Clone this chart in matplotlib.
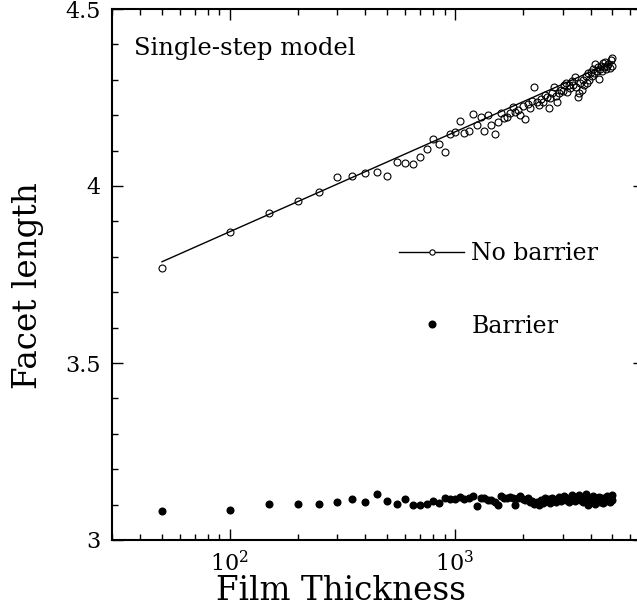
import matplotlib
matplotlib.use("Agg")
import matplotlib.pyplot as plt
from matplotlib.lines import Line2D
from matplotlib.ticker import LogLocator, MultipleLocator, FormatStrFormatter, NullFormatter

plt.rcParams['font.family'] = ['DejaVu Serif']
plt.rcParams['mathtext.fontset'] = 'dejavuserif'

thickness = [
    50, 100, 150, 200, 250, 300, 350, 400, 450, 500,
    550, 600, 650, 700, 750, 800, 850, 900, 950, 1000,
    1050, 1100, 1150, 1200, 1250, 1300, 1350, 1400, 1450, 1500,
    1550, 1600, 1650, 1700, 1750, 1800, 1850, 1900, 1950, 2000,
    2050, 2100, 2150, 2200, 2250, 2300, 2350, 2400, 2450, 2500,
    2550, 2600, 2650, 2700, 2750, 2800, 2850, 2900, 2950, 3000,
    3050, 3100, 3150, 3200, 3250, 3300, 3350, 3400, 3450, 3500,
    3550, 3600, 3650, 3700, 3750, 3800, 3850, 3900, 3950, 4000,
    4050, 4100, 4150, 4200, 4250, 4300, 4350, 4400, 4450, 4500,
    4550, 4600, 4650, 4700, 4750, 4800, 4850, 4900, 4950, 5000,
]

no_barrier = [
    3.768, 3.870, 3.925, 3.958, 3.984, 4.026, 4.028, 4.036, 4.039, 4.029,
    4.069, 4.066, 4.061, 4.081, 4.104, 4.133, 4.119, 4.095, 4.147, 4.152,
    4.184, 4.151, 4.155, 4.203, 4.172, 4.196, 4.156, 4.201, 4.172, 4.147,
    4.180, 4.205, 4.192, 4.194, 4.205, 4.222, 4.208, 4.215, 4.201, 4.226,
    4.188, 4.232, 4.219, 4.240, 4.279, 4.236, 4.228, 4.245, 4.238, 4.256,
    4.252, 4.219, 4.248, 4.262, 4.279, 4.255, 4.238, 4.262, 4.270, 4.268,
    4.284, 4.292, 4.265, 4.286, 4.278, 4.296, 4.284, 4.307, 4.280, 4.251,
    4.262, 4.290, 4.270, 4.300, 4.285, 4.310, 4.290, 4.318, 4.300, 4.323,
    4.312, 4.330, 4.318, 4.345, 4.325, 4.335, 4.301, 4.330, 4.340, 4.325,
    4.348, 4.335, 4.351, 4.330, 4.340, 4.345, 4.332, 4.355, 4.361, 4.338,
]

barrier = [
    3.082, 3.085, 3.101, 3.103, 3.101, 3.108, 3.115, 3.106, 3.129, 3.110,
    3.102, 3.116, 3.099, 3.099, 3.102, 3.110, 3.104, 3.120, 3.117, 3.116,
    3.122, 3.117, 3.120, 3.125, 3.097, 3.120, 3.118, 3.113, 3.112, 3.108,
    3.100, 3.125, 3.120, 3.118, 3.122, 3.120, 3.098, 3.118, 3.125, 3.115,
    3.112, 3.120, 3.106, 3.110, 3.102, 3.108, 3.100, 3.112, 3.105, 3.118,
    3.110, 3.115, 3.104, 3.120, 3.112, 3.108, 3.115, 3.122, 3.110, 3.118,
    3.125, 3.112, 3.120, 3.108, 3.118, 3.126, 3.115, 3.110, 3.122, 3.118,
    3.128, 3.112, 3.120, 3.106, 3.115, 3.130, 3.118, 3.098, 3.112, 3.120,
    3.108, 3.125, 3.115, 3.102, 3.118, 3.110, 3.122, 3.108, 3.115, 3.120,
    3.104, 3.112, 3.118, 3.110, 3.124, 3.115, 3.108, 3.120, 3.126, 3.112,
]

# fitted line (end points)
fit_x = [50, 5000]
fit_y = [3.786, 4.350]

fig = plt.figure(figsize=(6.37, 6.09), dpi=100)
ax = fig.add_axes([112/637, 69/609, 532/637, 531/609])

ax.plot(fit_x, fit_y, color='black', lw=1.0, zorder=2)
ax.plot(thickness, no_barrier, linestyle='none', marker='o', ms=5.0,
        mfc='none', mec='black', mew=0.8, zorder=3)
ax.plot(thickness, barrier, linestyle='none', marker='o', ms=5.8,
        mfc='black', mec='black', mew=0, zorder=3)

ax.set_xscale('log')
ax.set_xlim(30, 6900)
ax.set_ylim(3, 4.5)

ax.xaxis.set_major_locator(LogLocator(base=10, numticks=10))
ax.xaxis.set_minor_locator(LogLocator(base=10, subs=range(2, 10), numticks=20))
ax.xaxis.set_minor_formatter(NullFormatter())
ax.yaxis.set_major_locator(MultipleLocator(0.5))
ax.yaxis.set_minor_locator(MultipleLocator(0.1))
ax.yaxis.set_major_formatter(FormatStrFormatter('%g'))

ax.tick_params(which='both', direction='in', top=True, right=True,
               labelsize=16, width=1.0, pad=8)
ax.tick_params(which='major', length=8)
ax.tick_params(which='minor', length=4)
ax.tick_params(axis='y', which='minor', right=False)
for s in ax.spines.values():
    s.set_linewidth(1.5)

ax.set_xlabel('Film Thickness', fontsize=23.5)
ax.set_ylabel('Facet length', fontsize=23.5)
ax.xaxis.set_label_coords((341 - 112) / 532, -(591 - 540) / 531)
ax.yaxis.set_label_coords(-(112 - 28) / 532, (540 - 286) / 531)
ax.xaxis.label.set_va('center')
ax.yaxis.label.set_va('center')

ax.text(0.042, 0.925, 'Single-step model', transform=ax.transAxes,
        fontsize=17.5, va='center', ha='left')

h1 = Line2D([], [], color='black', lw=1.0, marker='o', ms=3.8,
            mfc='white', mec='black', mew=0.8)
h2 = Line2D([], [], linestyle='none', marker='o', ms=5.8,
            mfc='black', mec='black', mew=0)
leg = ax.legend([h1, h2], ['No barrier', 'Barrier'], frameon=False,
                fontsize=17, handlelength=2.75, handletextpad=0.3,
                labelspacing=2.1, loc='upper left',
                bbox_to_anchor=(0.5, 0.601))

fig.savefig('out.png', dpi=100)
